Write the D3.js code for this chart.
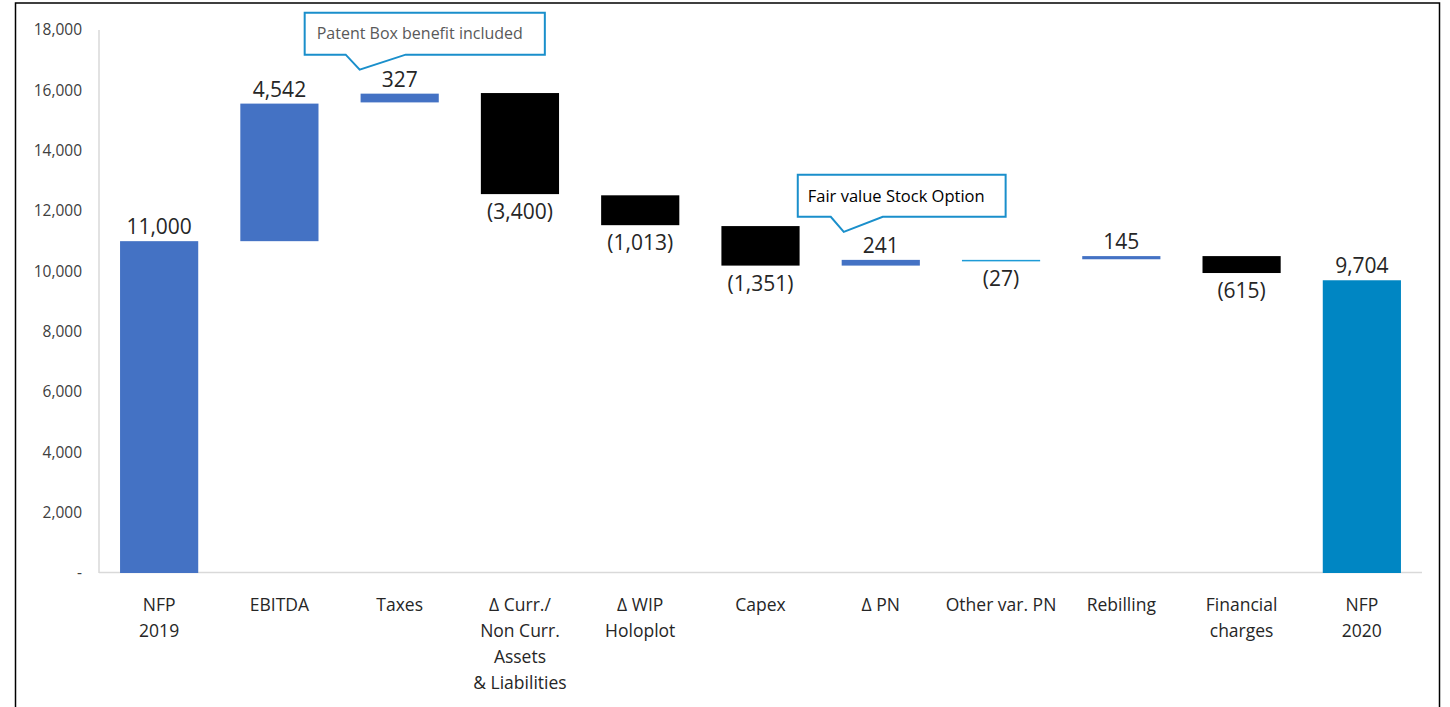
<!DOCTYPE html>
<html><head><meta charset="utf-8">
<script src="https://cdn.jsdelivr.net/npm/d3@7"></script>
<style>body{margin:0;background:#fff;} svg{display:block;}</style>
</head><body>
<svg id="chart" width="1450" height="707"></svg>
<script>
// ---- data ----
const categories = ["NFP 2019","EBITDA","Taxes","Δ Curr./ Non Curr. Assets & Liabilities","Δ WIP Holoplot","Capex","Δ PN","Other var. PN","Rebilling","Financial charges","NFP 2020"];
const categoryLines = [["NFP","2019"],["EBITDA"],["Taxes"],["Δ Curr./","Non Curr.","Assets","& Liabilities"],["Δ WIP","Holoplot"],["Capex"],["Δ PN"],["Other var. PN"],["Rebilling"],["Financial","charges"],["NFP","2020"]];
const values = [11000, 4542, 327, -3400, -1013, -1351, 241, -27, 145, -615, 9704];
// waterfall levels as drawn in the picture
const barStart = [0, 11000, 15600, 15910, 12520, 11500, 10190, 10380, 10400, 10505, 0];
const barEnd   = [11000, 15560, 15890, 12560, 11530, 10190, 10380, 10353, 10505, 9944, 9704];
const barKind  = ["total","up","up","down","down","down","up","other","up","down","final"];
const yTicks = [0,2000,4000,6000,8000,10000,12000,14000,16000,18000];
const callouts = [
  {cat:"Taxes", text:"Patent Box benefit included", color:"#595959"},
  {cat:"Δ PN", text:"Fair value Stock Option", color:"#000000"}
];

const colors = {total:"#4472C4", up:"#4472C4", down:"#000000", other:"#1E9BD7", final:"#0086C3"};

const svg = d3.select("#chart");
const font = "'Open Sans', sans-serif";

const x = d3.scaleBand().domain(categories).range([99, 1422]).paddingInner(0.35).paddingOuter(0.175);
const y = d3.scaleLinear().domain([0, 18000]).range([573, 30]);

// outer frame
svg.append("rect").attr("x",15.5).attr("y",3).attr("width",1424).attr("height",720)
  .attr("fill","none").attr("stroke","#000").attr("stroke-width",1.5);

// axes lines
svg.append("line").attr("x1",99).attr("x2",99).attr("y1",y(18000)).attr("y2",y(0))
  .attr("stroke","#d9d9d9").attr("stroke-width",1.5);
svg.append("line").attr("x1",99).attr("x2",1422).attr("y1",y(0)-0.5).attr("y2",y(0)-0.5)
  .attr("stroke","#d9d9d9").attr("stroke-width",1.5);

// y tick labels
svg.append("g").selectAll("text").data(yTicks).join("text")
  .attr("x",82).attr("y",d=>y(d)).attr("dy","0.35em")
  .attr("text-anchor","end").attr("font-family",font).attr("font-size",15.5)
  .attr("fill","#404040")
  .text(d=> d===0 ? "-" : d3.format(",")(d));

// bars
const data = categories.map((c,i)=>({cat:c, v:values[i], s:barStart[i], e:barEnd[i], k:barKind[i], lines:categoryLines[i]}));
svg.append("g").selectAll("rect").data(data).join("rect")
  .attr("x",d=>x(d.cat)).attr("width",x.bandwidth())
  .attr("y",d=>y(Math.max(d.s,d.e)))
  .attr("height",d=>Math.max(1.5, Math.abs(y(d.s)-y(d.e))))
  .attr("fill",d=>colors[d.k]);

// value labels
const fmt = v => v<0 ? "(" + d3.format(",")(-v) + ")" : d3.format(",")(v);
svg.append("g").selectAll("text").data(data).join("text")
  .attr("x",d=>x(d.cat)+x.bandwidth()/2)
  .attr("y",d=> d.v>=0 ? y(Math.max(d.s,d.e))-7 : y(Math.min(d.s,d.e))+25)
  .attr("text-anchor","middle").attr("font-family",font).attr("font-size",21)
  .attr("fill","#262626").text(d=>fmt(d.v));

// category labels
const cg = svg.append("g").selectAll("text").data(data).join("text")
  .attr("x",d=>x(d.cat)+x.bandwidth()/2).attr("y",611)
  .attr("text-anchor","middle").attr("font-family",font).attr("font-size",17.5)
  .attr("fill","#262626");
cg.selectAll("tspan").data(d=>d.lines.map(l=>({l, cx:x(d.cat)+x.bandwidth()/2}))).join("tspan")
  .attr("x",t=>t.cx).attr("dy",(t,i)=> i===0?0:26).text(t=>t.l);

// callouts
const calloutGeom = [
  {dx:-40, dy:-24, left:55, pad:34, p1:41, p2:101, tx:12, fs:16},
  {dx:-37, dy:-28, left:46, pad:31, p1:33, p2:85, tx:10, fs:16.5}
];
callouts.forEach((c,i)=>{
  const gm = calloutGeom[i];
  const idx = categories.indexOf(c.cat);
  const topV = Math.max(barStart[idx], barEnd[idx]);
  const cx = x(c.cat)+x.bandwidth()/2;
  const tipX = cx + gm.dx, tipY = y(topV) + gm.dy;
  const g = svg.append("g");
  const bh = 42;
  const bx = tipX - gm.left, by = tipY - 15 - bh;
  const t = g.append("text").attr("x",bx+gm.tx).attr("y",by+bh/2).attr("dy","0.35em")
    .attr("font-family",font).attr("font-size",gm.fs).attr("fill",c.color).text(c.text);
  const tw = t.node().getComputedTextLength();
  const bw = tw + gm.pad;
  const p1 = bx + gm.p1, p2 = bx + gm.p2;
  const path = `M${bx},${by} H${bx+bw} V${by+bh} H${p2} L${tipX},${tipY} L${p1},${by+bh} H${bx} Z`;
  g.insert("path","text").attr("d",path).attr("fill","#fff").attr("stroke","#1A8FCB").attr("stroke-width",2);
});
</script>
</body></html>
